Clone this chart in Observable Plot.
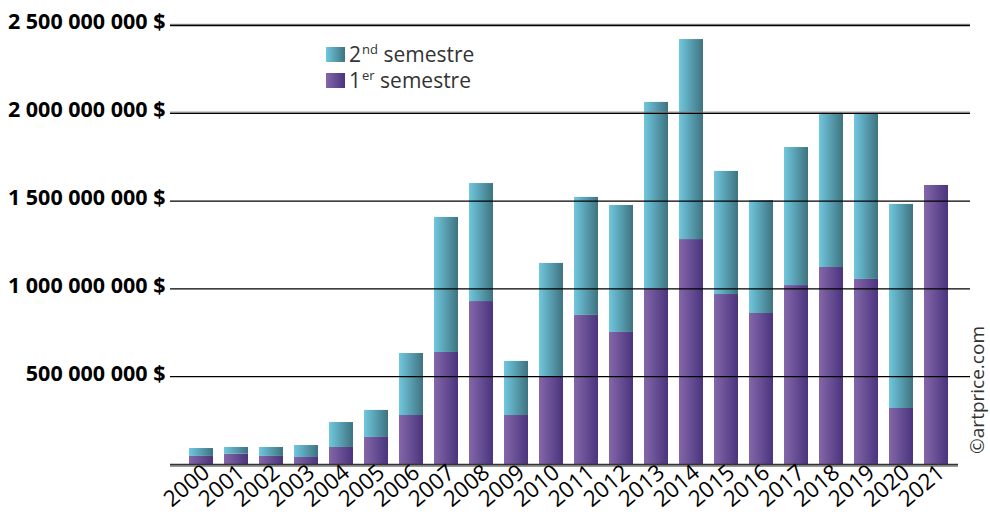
<!DOCTYPE html>
<html><head><meta charset="utf-8">
<script src="https://cdn.jsdelivr.net/npm/d3@7"></script>
<script src="https://cdn.jsdelivr.net/npm/@observablehq/plot@0.6"></script>
<style>
html,body{margin:0;padding:0;background:#fff;}
#wrap{position:relative;width:990px;height:515px;font-family:"Open Sans",sans-serif;}
#wrap svg{display:block;}
.leg{position:absolute;left:326px;display:flex;align-items:center;font-size:21px;color:#333;line-height:1;white-space:nowrap;}
.leg .sw{display:inline-block;width:19px;height:15px;margin-right:4px;}
.leg sup{font-size:13px;vertical-align:0;position:relative;top:-8px;margin-left:1px;}
#copy{position:absolute;left:977px;top:390px;transform:translate(-50%,-50%) rotate(-90deg);font-size:19px;color:#333;white-space:nowrap;font-family:"Open Sans",sans-serif;}
</style></head><body>
<div id="wrap"></div>
<script>
// Values in millions of dollars
const years = ["2000","2001","2002","2003","2004","2005","2006","2007","2008","2009","2010","2011","2012","2013","2014","2015","2016","2017","2018","2019","2020","2021"];
const firstSemester  = [46, 59, 46, 40, 97, 154, 279, 638, 928, 279, 500, 849, 752, 1000, 1281, 968, 860, 1019, 1122, 1054, 319, 1589];
const secondSemester = [45, 38, 51, 68, 142, 154, 353, 769, 672, 308, 645, 672, 723, 1062, 1139, 701, 643, 786, 878, 946, 1162, 0];
const seriesNames = ["1er semestre", "2nd semestre"];
const yTicks = [500, 1000, 1500, 2000, 2500];

const rows = [];
years.forEach((y, i) => {
  rows.push({year: y, sem: seriesNames[0], value: firstSemester[i] * 1e6});
  rows.push({year: y, sem: seriesNames[1], value: secondSemester[i] * 1e6});
});
const tickVals = yTicks.map(v => v * 1e6);
const fmt = v => d3.format(",")(v).replace(/,/g, " ") + " $";

const defs = () => {
  const ns = "http://www.w3.org/2000/svg";
  const d = document.createElementNS(ns, "defs");
  d.innerHTML = `
   <linearGradient id="g1" x1="0" x2="1" y1="0" y2="0">
     <stop offset="0" stop-color="#8467a9"/><stop offset="1" stop-color="#4a347e"/>
   </linearGradient>
   <linearGradient id="g2" x1="0" x2="1" y1="0" y2="0">
     <stop offset="0" stop-color="#70c7de"/><stop offset="1" stop-color="#3e7380"/>
   </linearGradient>`;
  return d;
};

const chart = Plot.plot({
  width: 990,
  height: 515,
  marginLeft: 170,
  marginRight: 20,
  marginTop: 25,
  marginBottom: 51,
  style: {fontFamily: "'Open Sans', sans-serif", background: "#fff", color: "#000"},
  x: {type: "band", domain: years, range: [178.3, 958], paddingInner: 0.31, paddingOuter: 0.155, label: null},
  y: {domain: [0, 2.5e9], label: null},
  color: {domain: seriesNames, range: ["url(#g1)", "url(#g2)"]},
  marks: [
    defs,
    Plot.barY(rows, Plot.stackY({x: "year", y: "value", fill: "sem", order: null})),
    Plot.ruleY(tickVals.filter(v => v >= 2e9), {stroke: "#888", strokeWidth: 1, dy: -1.2}),
    Plot.ruleY(tickVals, {stroke: "#000", strokeWidth: 1.3}),
    Plot.ruleY([0], {stroke: "#999", strokeWidth: 2, dy: 1.5, insetRight: 12}),
    Plot.ruleY([0], {stroke: "#333", strokeWidth: 1.6, insetRight: 12}),
    Plot.axisY({ticks: tickVals, tickFormat: fmt, tickSize: 0, tickPadding: 5, fontSize: 21.5, fontWeight: "bold", dy: -3, fill: "#000", label: null}),
    Plot.axisX({tickSize: 0, tickRotate: -40, fontSize: 22.5, tickPadding: 5, dx: 5, fill: "#000", label: null})
  ]
});
const wrap = document.getElementById("wrap");
wrap.appendChild(chart);

const leg = document.createElement("div");
leg.innerHTML = `
 <div class="leg" style="top:44px"><span class="sw" style="background:linear-gradient(to right,#70c7de,#3e7380)"></span><span>2<sup>nd</sup> semestre</span></div>
 <div class="leg" style="top:70px"><span class="sw" style="background:linear-gradient(to right,#8467a9,#4a347e)"></span><span>1<sup>er</sup> semestre</span></div>
 <div id="copy">©artprice.com</div>`;
while (leg.firstChild) wrap.appendChild(leg.firstChild);
</script>
</body></html>
